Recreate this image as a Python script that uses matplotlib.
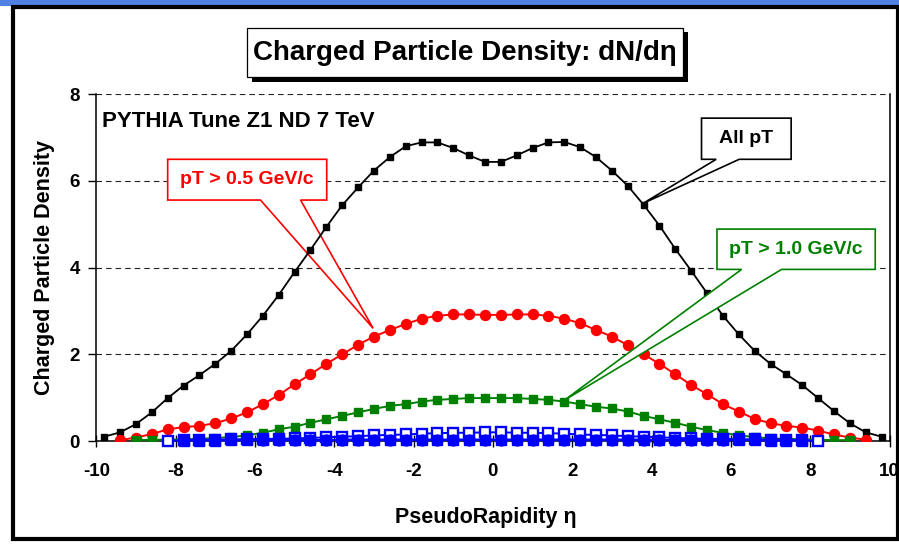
import matplotlib
matplotlib.use("Agg")
import matplotlib.pyplot as plt
from matplotlib.patches import Polygon, Rectangle

plt.rcParams['font.family'] = ['Liberation Sans', 'DejaVu Sans']
plt.rcParams['font.weight'] = 'bold'

# ---------------- data ----------------
eta_all = [-9.8, -9.4, -9.0, -8.6, -8.2, -7.8, -7.4, -7.0, -6.6, -6.2,
           -5.8, -5.4, -5.0, -4.6, -4.2, -3.8, -3.4, -3.0, -2.6, -2.2,
           -1.8, -1.4, -1.0, -0.6, -0.2, 0.2, 0.6, 1.0, 1.4, 1.8,
           2.2, 2.6, 3.0, 3.4, 3.8, 4.2, 4.6, 5.0, 5.4, 5.8,
           6.2, 6.6, 7.0, 7.4, 7.8, 8.2, 8.6, 9.0, 9.4, 9.8]

all_pt = [0.10, 0.20, 0.39, 0.66, 0.99, 1.28, 1.52, 1.78, 2.08, 2.46,
          2.89, 3.37, 3.90, 4.41, 4.94, 5.44, 5.85, 6.24, 6.55, 6.80,
          6.89, 6.89, 6.76, 6.59, 6.44, 6.44, 6.59, 6.76, 6.89, 6.90,
          6.78, 6.55, 6.24, 5.89, 5.45, 4.97, 4.43, 3.93, 3.41, 2.89,
          2.46, 2.08, 1.78, 1.54, 1.29, 0.99, 0.69, 0.41, 0.20, 0.10]

eta_red = eta_all[1:-1]
pt05 = [0.02, 0.08, 0.16, 0.27, 0.32, 0.35, 0.41, 0.52, 0.66,
        0.85, 1.06, 1.31, 1.54, 1.78, 2.00, 2.22, 2.41, 2.56, 2.70,
        2.82, 2.89, 2.92, 2.92, 2.91, 2.91, 2.92, 2.92, 2.89, 2.82,
        2.72, 2.56, 2.41, 2.21, 2.00, 1.78, 1.54, 1.29, 1.08, 0.85,
        0.68, 0.51, 0.41, 0.35, 0.31, 0.24, 0.15, 0.08, 0.03]

eta_green = eta_all[2:-2]
pt10 = [0.02, 0.03, 0.03, 0.04, 0.05, 0.07, 0.09, 0.13,
        0.19, 0.27, 0.33, 0.42, 0.50, 0.58, 0.66, 0.74, 0.81, 0.85,
        0.91, 0.95, 0.97, 0.99, 0.99, 0.99, 0.99, 0.97, 0.95, 0.91,
        0.85, 0.79, 0.75, 0.68, 0.58, 0.50, 0.42, 0.33, 0.25, 0.19,
        0.13, 0.09, 0.06, 0.05, 0.04, 0.03, 0.02, 0.02]

eta_open = eta_all[4:-4]
blue_open = [0.00, 0.02, 0.03, 0.03, 0.04, 0.04,
             0.05, 0.05, 0.06, 0.07, 0.085, 0.10, 0.11, 0.13, 0.14, 0.15,
             0.17, 0.18, 0.19, 0.19, 0.20, 0.20, 0.19, 0.19, 0.18, 0.17,
             0.15, 0.14, 0.13, 0.11, 0.10, 0.085, 0.07, 0.06, 0.05, 0.05,
             0.04, 0.04, 0.03, 0.03, 0.02, 0.00]

eta_fsq = eta_all[5:-5]
blue_fsq = [0.01, 0.01, 0.01, 0.02, 0.02,
            0.02, 0.02, 0.02, 0.02, 0.02, 0.03, 0.03, 0.03, 0.03, 0.03,
            0.03, 0.03, 0.03, 0.03, 0.03, 0.03, 0.03, 0.03, 0.03, 0.03,
            0.03, 0.03, 0.03, 0.03, 0.03, 0.02, 0.02, 0.02, 0.02, 0.02,
            0.02, 0.02, 0.01, 0.01, 0.01]

eta_circ = eta_all[10:-10]
blue_circ = [0.02, 0.02, 0.02, 0.02, 0.02, 0.03, 0.03, 0.03, 0.03, 0.03,
             0.03, 0.03, 0.03, 0.03, 0.03, 0.03, 0.03, 0.03, 0.03, 0.03,
             0.03, 0.03, 0.03, 0.03, 0.03, 0.02, 0.02, 0.02, 0.02, 0.02]

x_ticks = [-10, -8, -6, -4, -2, 0, 2, 4, 6, 8, 10]
y_ticks = [0, 2, 4, 6, 8]

title_text = "Charged Particle Density: dN/d\u03b7"
tune_text = "PYTHIA Tune Z1 ND 7 TeV"
lab_all = "All pT"
lab_05 = "pT > 0.5 GeV/c"
lab_10 = "pT > 1.0 GeV/c"

RED = (1.0, 0.0, 0.0)
GREEN = (0.0, 0.5, 0.0)
BLUE = (0.0, 0.0, 1.0)

# ---------------- figure ----------------
W, H = 899, 546
fig = plt.figure(figsize=(W / 100, H / 100), dpi=100)
fig.patch.set_facecolor('white')

def fx(px):
    return px / W

def fy(py):
    return 1 - py / H

# top blue band + outer frame
fig.add_artist(Rectangle((0, fy(6)), 1, 6 / H, transform=fig.transFigure,
                         facecolor='#4f81e3', edgecolor='none', zorder=0))
fig.add_artist(Rectangle((fx(13), fy(539)), fx(897.5) - fx(13), fy(7) - fy(539),
                         transform=fig.transFigure, facecolor='none',
                         edgecolor='black', lw=3.0, zorder=1))

ax = fig.add_axes([fx(96.3), fy(441), fx(889.5) - fx(96.3), fy(94.3) - fy(441)])
ax.set_xlim(-10, 10)
ax.set_ylim(0, 8)
ax.set_xticks(x_ticks)
ax.set_yticks(y_ticks)
ax.set_xticklabels([str(t) for t in x_ticks])
ax.set_yticklabels([str(t) for t in y_ticks])
ax.tick_params(axis='x', direction='inout', length=9, width=1.0, pad=11,
               labelsize=13.5)
ax.tick_params(axis='y', direction='out', length=6, width=1.0, pad=6,
               labelsize=13.5)
for lbl in ax.get_xticklabels() + ax.get_yticklabels():
    lbl.set_fontweight('bold')

ax.yaxis.grid(True, color='#222222', linestyle=(0, (5, 3.6)), lw=0.8, zorder=0.5)
ax.set_axisbelow(True)
ax.spines['top'].set_visible(False)
for s in ['left', 'bottom', 'right']:
    ax.spines[s].set_linewidth(1.1)

ax.set_xlabel("PseudoRapidity \u03b7", fontsize=15.5, fontweight='bold')
ax.set_ylabel("Charged Particle Density", fontsize=15.5, fontweight='bold')
ax.xaxis.set_label_coords((486 - 96.3) / (889.5 - 96.3), -(518 - 441) / (441 - 94.3))
ax.xaxis.label.set_va('center')
ax.yaxis.set_label_coords(-(96.3 - 45) / (889.5 - 96.3), 0.5)
ax.yaxis.label.set_va('center')

# series
ax.plot(eta_all, all_pt, color='black', lw=1.3, marker='s', ms=5.0,
        mfc='black', mec='black', zorder=3)
ax.plot(eta_red, pt05, color=RED, lw=1.4, marker='o', ms=7.2,
        mfc=RED, mec=RED, zorder=3.1)
ax.plot(eta_green, pt10, color=GREEN, lw=1.4, marker='s', ms=5.2,
        mfc=GREEN, mec=GREEN, zorder=3.2)
ax.plot(eta_open, blue_open, color=BLUE, lw=1.4, marker='s', ms=7.0,
        mfc='white', mec=BLUE, mew=1.7, zorder=3.3, clip_on=False)
ax.plot(eta_fsq, blue_fsq, color=BLUE, lw=1.4, marker='s', ms=7.2,
        mfc=BLUE, mec=BLUE, zorder=3.4, clip_on=False)
ax.plot(eta_circ, blue_circ, color=BLUE, lw=1.4, marker='o', ms=7.8,
        mfc=BLUE, mec=BLUE, zorder=3.5, clip_on=False)

# PYTHIA label
ax.text(-9.86, 7.37, tune_text, ha='left', va='center', fontsize=16,
        fontweight='bold', color='black', zorder=5)


def callout(box, base, tip, color, text, z):
    x0, x1, y0, y1 = box
    b0, b1 = base
    verts = [(x0, y1), (x1, y1), (x1, y0), (b1, y0), tip, (b0, y0), (x0, y0)]
    poly = Polygon(verts, closed=True, facecolor='white', edgecolor=color,
                   lw=1.2, zorder=z, clip_on=False, joinstyle='miter')
    ax.add_patch(poly)
    ax.text((x0 + x1) / 2, (y0 + y1) / 2, text, color=color, ha='center',
            va='center', fontsize=14, fontweight='bold', zorder=z + 0.05)


callout((-8.20, -4.19, 5.56, 6.50), (-5.86, -4.85), (-3.02, 2.60), RED, lab_05, 1.5)
callout((5.26, 7.52, 6.50, 7.45), (5.63, 6.21), (3.78, 5.48), 'black', lab_all, 6)
callout((5.65, 9.64, 3.96, 4.89), (6.27, 7.28), (1.80, 0.94), GREEN, lab_10, 6)

# title box with shadow
tx0, tx1, ty0, ty1 = 247.3, 683.3, 27.7, 77.3
fig.add_artist(Rectangle((fx(tx0 + 5), fy(ty1 + 4.5)), fx(tx1) - fx(tx0),
                         fy(ty0) - fy(ty1), transform=fig.transFigure,
                         facecolor='black', edgecolor='none', zorder=2))
fig.add_artist(Rectangle((fx(tx0), fy(ty1)), fx(tx1) - fx(tx0),
                         fy(ty0) - fy(ty1), transform=fig.transFigure,
                         facecolor='white', edgecolor='black', lw=0.9, zorder=3))
fig.text(fx((tx0 + tx1) / 2), fy((ty0 + ty1) / 2), title_text, ha='center',
         va='center', fontsize=20, fontweight='bold', zorder=4)

fig.savefig("out.png", dpi=100, facecolor='white')
